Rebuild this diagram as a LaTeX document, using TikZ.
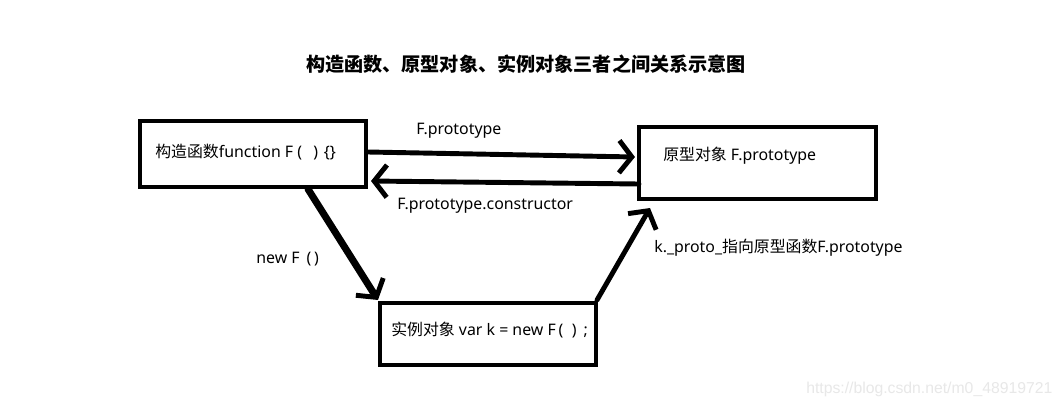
\documentclass[tikz,border=0pt]{standalone}
\usepackage{fontspec}
\setmainfont{Noto Sans}
\newfontfamily\cjk{Noto Sans CJK SC}
\newfontfamily\wmfont{Liberation Sans}
\usetikzlibrary{arrows.meta,calc}
\begin{document}
\begin{tikzpicture}[x=0.025cm,y=-0.025cm,
  box/.style={draw=black,line width=3.3pt,inner sep=0pt,outer sep=0pt},
  lbl/.style={anchor=west,inner sep=0pt,font=\fontsize{11.3}{13}\selectfont},
  arr/.style={line width=3.5pt,line cap=round,-{Straight Barb[length=9pt,width=23pt]}},
  arrthick/.style={line width=5pt,line cap=round,-{Straight Barb[length=9pt,width=23pt,line width=3.5pt]}}]
\useasboundingbox (0,0) rectangle (1060,409);
\fill[white] (0,0) rectangle (1060,409);
% title
\node[inner sep=0pt,font=\fontsize{13.6}{16}\selectfont\cjk\bfseries] (title) at (526,64) {构造函数、原型对象、实例对象三者之间关系示意图};
% boxes
\node[box,minimum width=5.65cm,minimum height=1.65cm] (b1) at (253,154) {};
\node[box,minimum width=5.925cm,minimum height=1.8cm] (b2) at (757.5,163) {};
\node[box,minimum width=5.4cm,minimum height=1.55cm] (b3) at (488,334) {};
% box texts
\node[lbl] (t1) at (155,152) {{\cjk 构造函数}function F\hspace{3pt}(\hspace{8pt})\hspace{4pt}\{\}};
\node[lbl] (t2) at (663,156) {{\cjk 原型对象} F.prototype};
\node[lbl] (t3) at (391,330) {{\cjk 实例对象} var k = new F\hspace{2pt}(\hspace{6pt})\hspace{5pt}{;}};
% connectors
\draw[arr] ($(b1.east)+(2,-2)$) -- ($(b2.west)+(-4,-6)$);
\draw[arr] ($(b2.west)+(0,21)$) -- ($(b1.east)+(5,27)$);
\draw[arrthick] ($(b1.south west)+(168,2)$) -- ($(b3.north west)+(-2,-3)$);
\draw[arr] ($(b3.north east)+(1,-3)$) -- ($(b2.south west)+(11,9)$);
% connector labels
\node[lbl] (l1) at (416,131) {F.prototype};
\node[lbl] (l2) at (397,206) {F.prototype.constructor};
\node[lbl] (l3) at (256,259) {new F\hspace{2pt} (\hspace{2pt})};
\node[lbl] (l4) at (654,248) {k.\_proto\_{\cjk 指向原型函数}F.prototype};
% watermark
\node[anchor=west,inner sep=0pt,text=black!9,font=\fontsize{11.2}{13}\wmfont] (wm) at (806,389) {https://blog.csdn.net/m0\_48919721};
\end{tikzpicture}
\end{document}
